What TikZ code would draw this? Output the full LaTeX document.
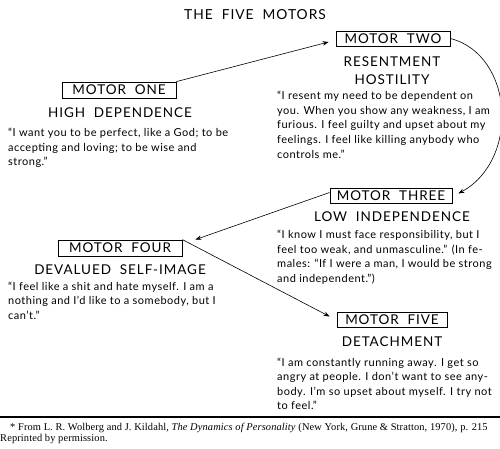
\documentclass[tikz,border=0pt]{standalone}
\usepackage{fontspec}
\setmainfont{Lato}
\newfontfamily\quotefont[LetterSpace=4.5]{Lato}
\newfontfamily\headfont[LetterSpace=7]{Lato}
\newfontfamily\serifnote[LetterSpace=1.2]{Liberation Serif}
\usetikzlibrary{arrows.meta}
\begin{document}
\begin{tikzpicture}[x=1pt,y=-1pt,
  motor/.style={draw, line width=0.8pt, inner sep=0pt, minimum height=16pt, font=\headfont\fontsize{13.5}{14}\selectfont},
  head/.style={font=\headfont\fontsize{13.5}{18}\selectfont, align=center, inner sep=0pt},
  quote/.style={font=\quotefont\fontsize{11}{14.6}\selectfont, align=left, anchor=north west, inner sep=0pt},
  arr/.style={-{Stealth[length=6pt,width=4.5pt]}, line width=0.6pt},
  note/.style={font=\serifnote\fontsize{10.4}{11}\selectfont, anchor=base west, inner sep=0pt}]
\useasboundingbox (0,0) rectangle (500,449);
\node[head, font=\headfont\fontsize{13.8}{18}\selectfont] (title) at (255,15) {THE\ \ FIVE\ \ MOTORS};

\node[motor, minimum width=114pt] (one) at (119,90) {MOTOR\ \ ONE};
\node[head] (oneh) at (120,113) {HIGH\ \ DEPENDENCE};
\node[quote] (oneq) at (8,128) {“I want you to be perfect, like a God; to be\\accepting and loving; to be wise and\\strong.”};

\node[motor, minimum width=114pt, minimum height=15pt] (two) at (393,38.5) {MOTOR\ \ TWO};
\node[head] (twoh) at (392,71) {RESENTMENT\\HOSTILITY};
\node[quote] (twoq) at (277,91) {“I resent my need to be dependent on\\you. When you show any weakness, I am\\furious. I feel guilty and upset about my\\feelings. I feel like killing anybody who\\controls me.”};

\node[motor, minimum width=122pt, minimum height=15pt] (three) at (391,195.5) {MOTOR\ \ THREE};
\node[head] (threeh) at (392,217) {LOW\ \ INDEPENDENCE};
\node[quote] (threeq) at (277,230) {“I know I must face responsibility, but I\\feel too weak, and unmasculine.” (In fe-\\males: “If I were a man, I would be strong\\and independent.”)};

\node[motor, minimum width=124pt] (four) at (120,248) {MOTOR\ \ FOUR};
\node[head] (fourh) at (120,270) {DEVALUED\ \ SELF-IMAGE};
\node[quote] (fourq) at (8,281.5) {“I feel like a shit and hate myself. I am a\\nothing and I’d like to a somebody, but I\\can’t.”};

\node[motor, minimum width=110pt, minimum height=15pt] (five) at (392,319.5) {MOTOR\ \ FIVE};
\node[head] (fiveh) at (392,342) {DETACHMENT};
\node[quote] (fiveq) at (277,357.5) {“I am constantly running away. I get so\\angry at people. I don’t want to see any-\\body. I’m so upset about myself. I try not\\to feel.”};

\draw[arr] (one.north east) -- ([xshift=-7pt,yshift=-3.5pt]two.west);
\draw[arr] (two.east) .. controls (514,55) and (520,160) .. ([xshift=6pt,yshift=2pt]three.east);
\draw[arr] ([yshift=3pt]three.west) -- ([xshift=13pt]four.north east);
\draw[arr] (four.north east) -- ([xshift=-7pt,yshift=3pt]five.west);

\coordinate (rl) at (0,417);
\coordinate (rr) at (500,417);
\draw[line width=1.3pt] (rl) -- (rr);
\node[note] (n1) at (10,430) {* From L. R. Wolberg and J. Kildahl, \textit{The Dynamics of Personality} (New York, Grune \& Stratton, 1970), p. 215};
\node[note] (n2) at (0,441) {Reprinted by permission.};
\end{tikzpicture}
\end{document}
